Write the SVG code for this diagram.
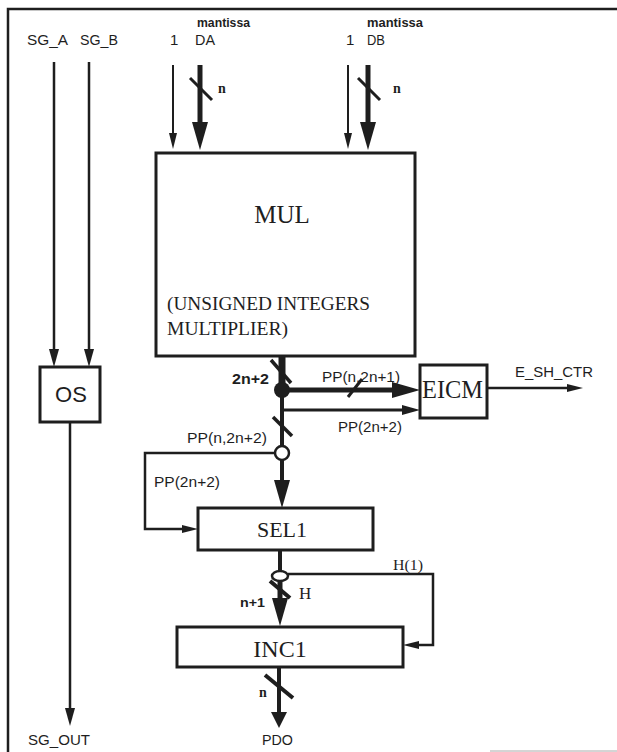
<svg xmlns="http://www.w3.org/2000/svg" width="617" height="752" viewBox="0 0 617 752">
<style>
.box{fill:#fff;stroke:#1e1e1e;stroke-width:3}
.ln{fill:none;stroke:#1e1e1e;stroke-linecap:butt;stroke-linejoin:miter}
.s{font-family:"Liberation Sans",Arial,sans-serif;fill:#1e1e1e}
.r{font-family:"Liberation Serif","Times New Roman",serif;fill:#1e1e1e}
</style>
<defs>
<marker id="big" markerUnits="userSpaceOnUse" viewBox="0 -8 28 16" refX="0" refY="0" markerWidth="28" markerHeight="16" orient="auto"><path d="M0,-8 L28,0 L0,8 Z" fill="#1e1e1e"/></marker>
<marker id="short" markerUnits="userSpaceOnUse" viewBox="0 -8 16 16" refX="0" refY="0" markerWidth="16" markerHeight="16" orient="auto"><path d="M0,-8 L16,0 L0,8 Z" fill="#1e1e1e"/></marker>
<marker id="med" markerUnits="userSpaceOnUse" viewBox="0 -5 18 10" refX="0" refY="0" markerWidth="18" markerHeight="10" orient="auto"><path d="M0,-5 L18,0 L0,5 Z" fill="#1e1e1e"/></marker>
<marker id="small" markerUnits="userSpaceOnUse" viewBox="0 -4 16 8" refX="0" refY="0" markerWidth="16" markerHeight="8" orient="auto"><path d="M0,-4 L16,0 L0,4 Z" fill="#1e1e1e"/></marker>
</defs>
<rect width="617" height="752" fill="#fff"/>
<g id="frame">
<path class="ln" d="M8,752 V9 H617" stroke-width="2.5"/>
<line x1="490" y1="751" x2="617" y2="751" stroke="#aaa" stroke-width="1"/>
</g>
<g id="connectors">
<!-- top inputs -->
<line class="ln" x1="54" y1="62" x2="54" y2="349" stroke-width="2.5" marker-end="url(#med)"/>
<line class="ln" x1="89" y1="62" x2="89" y2="349" stroke-width="2.5" marker-end="url(#med)"/>
<line class="ln" x1="173" y1="65" x2="173" y2="133" stroke-width="2" marker-end="url(#small)"/>
<line class="ln" x1="200" y1="65" x2="200" y2="122" stroke-width="5" marker-end="url(#big)"/>
<line class="ln" x1="190" y1="78" x2="212" y2="100" stroke-width="3"/>
<line class="ln" x1="348" y1="65" x2="348" y2="133" stroke-width="2" marker-end="url(#small)"/>
<line class="ln" x1="368" y1="65" x2="368" y2="122" stroke-width="5" marker-end="url(#big)"/>
<line class="ln" x1="358" y1="78" x2="380" y2="100" stroke-width="3"/>
<!-- OS output -->
<line class="ln" x1="70" y1="422" x2="70" y2="708" stroke-width="2.5" marker-end="url(#med)"/>
<!-- MUL output -->
<line class="ln" x1="282" y1="356" x2="282" y2="390" stroke-width="7"/>
<line class="ln" x1="271" y1="360" x2="291" y2="383" stroke-width="3.5"/>
<circle cx="282" cy="390" r="8" fill="#1e1e1e"/>
<line class="ln" x1="282" y1="390" x2="392" y2="390" stroke-width="5" marker-end="url(#big)"/>
<line class="ln" x1="348" y1="397" x2="362" y2="379" stroke-width="3"/>
<line class="ln" x1="282" y1="390" x2="282" y2="446" stroke-width="4"/>
<line class="ln" x1="282" y1="410" x2="402" y2="410" stroke-width="3" marker-end="url(#med)"/>
<line class="ln" x1="273" y1="417" x2="292" y2="436" stroke-width="3.5"/>
<circle cx="282" cy="453" r="7" fill="#fff" stroke="#1e1e1e" stroke-width="2.5"/>
<path class="ln" d="M275,453 H145 V529 H182" stroke-width="2.5" marker-end="url(#small)"/>
<line class="ln" x1="282" y1="460" x2="282" y2="480" stroke-width="4" marker-end="url(#big)"/>
<!-- EICM output -->
<line class="ln" x1="487" y1="388" x2="567" y2="388" stroke-width="2.5" marker-end="url(#small)"/>
<!-- SEL1 output -->
<line class="ln" x1="280" y1="550" x2="280" y2="571" stroke-width="4"/>
<ellipse cx="280" cy="576" rx="8" ry="5" fill="#fff" stroke="#1e1e1e" stroke-width="2.5"/>
<path class="ln" d="M288,574 H433 V645 H419" stroke-width="2.5" marker-end="url(#small)"/>
<line class="ln" x1="280" y1="581" x2="280" y2="598" stroke-width="5" marker-end="url(#big)"/>
<line class="ln" x1="270" y1="581" x2="290" y2="598" stroke-width="4"/>
<!-- INC1 output -->
<line class="ln" x1="279" y1="667" x2="279" y2="712" stroke-width="4" marker-end="url(#short)"/>
<line class="ln" x1="265" y1="675" x2="293" y2="698" stroke-width="4"/>
</g>
<g id="MUL">
<rect class="box" x="156" y="153" width="259" height="203"/>
<text class="r" x="282" y="223" font-size="25" text-anchor="middle">MUL</text>
<text class="r" x="167" y="310" font-size="18" textLength="203" lengthAdjust="spacingAndGlyphs">(UNSIGNED INTEGERS</text>
<text class="r" x="167" y="335" font-size="18" textLength="121" lengthAdjust="spacingAndGlyphs">MULTIPLIER)</text>
</g>
<g id="OS">
<rect class="box" x="40" y="367" width="60" height="55"/>
<text class="s" x="71" y="402" font-size="22" text-anchor="middle">OS</text>
</g>
<g id="EICM">
<rect class="box" x="420" y="365" width="67" height="53"/>
<text class="r" x="422" y="398" font-size="25" textLength="61" lengthAdjust="spacingAndGlyphs">EICM</text>
</g>
<g id="SEL1">
<rect class="box" x="198" y="508" width="175" height="42"/>
<text class="r" x="282" y="537" font-size="22" text-anchor="middle">SEL1</text>
</g>
<g id="INC1">
<rect class="box" x="177" y="627" width="226" height="40"/>
<text class="r" x="280" y="657" font-size="24" text-anchor="middle">INC1</text>
</g>
<g id="labels">
<text class="s" x="27" y="45" font-size="15" textLength="41" lengthAdjust="spacingAndGlyphs">SG_A</text>
<text class="s" x="80" y="45" font-size="15" textLength="38" lengthAdjust="spacingAndGlyphs">SG_B</text>
<text class="s" x="197" y="27" font-size="13" font-weight="bold" textLength="53" lengthAdjust="spacingAndGlyphs">mantissa</text>
<text class="s" x="170" y="45" font-size="15">1</text>
<text class="s" x="195" y="45" font-size="15" textLength="20" lengthAdjust="spacingAndGlyphs">DA</text>
<text class="r" x="218" y="93" font-size="14" font-weight="bold">n</text>
<text class="s" x="367" y="27" font-size="13" font-weight="bold" textLength="56" lengthAdjust="spacingAndGlyphs">mantissa</text>
<text class="s" x="346" y="45" font-size="15">1</text>
<text class="s" x="367" y="45" font-size="15" textLength="18" lengthAdjust="spacingAndGlyphs">DB</text>
<text class="r" x="393" y="93" font-size="14" font-weight="bold">n</text>
<text class="s" x="232" y="384" font-size="14" font-weight="bold" textLength="37" lengthAdjust="spacingAndGlyphs">2n+2</text>
<text class="s" x="322" y="382" font-size="15" textLength="78" lengthAdjust="spacingAndGlyphs">PP(n,2n+1)</text>
<text class="s" x="338" y="432" font-size="15" textLength="64" lengthAdjust="spacingAndGlyphs">PP(2n+2)</text>
<text class="s" x="515" y="377" font-size="14" textLength="78" lengthAdjust="spacingAndGlyphs">E_SH_CTR</text>
<text class="s" x="187" y="443" font-size="15" textLength="80" lengthAdjust="spacingAndGlyphs">PP(n,2n+2)</text>
<text class="s" x="154" y="487" font-size="15" textLength="66" lengthAdjust="spacingAndGlyphs">PP(2n+2)</text>
<text class="r" x="393" y="570" font-size="15" textLength="30" lengthAdjust="spacingAndGlyphs">H(1)</text>
<text class="r" x="299" y="599" font-size="17">H</text>
<text class="s" x="240" y="607" font-size="12" font-weight="bold" textLength="25" lengthAdjust="spacingAndGlyphs">n+1</text>
<text class="r" x="259" y="697" font-size="14" font-weight="bold">n</text>
<text class="s" x="262" y="745" font-size="15" textLength="31" lengthAdjust="spacingAndGlyphs">PDO</text>
<text class="s" x="28" y="745" font-size="15" textLength="62" lengthAdjust="spacingAndGlyphs">SG_OUT</text>
</g>
</svg>
